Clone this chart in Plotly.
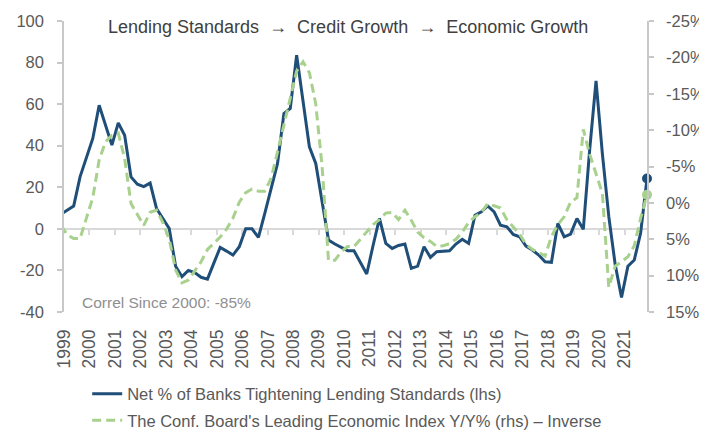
import plotly.graph_objects as go

# ---------------- data ----------------
year_labels = [str(y) for y in range(1999, 2022)]
year_ticks = list(range(1999, 2022))

# quarterly observations, plotted (advanced) starting at this position
SERIES_START = 1998.88
QUARTER = 0.25

# Net % of banks tightening lending standards (lhs)
net_tightening = [
    7, 9, 11, 25, 34, 43.5, 59.5, 50, 40.3, 51,
    45, 25, 21.5, 20.3, 22, 9.8, 5, 0.2, -18, -23,
    -20, -21, -23.3, -24.2, -16.5, -8.9, -10.7, -12.6, -8.6, 0,
    0, -4.1, 7.4, 19.5, 31.5, 55.5, 57.9, 83.6, 62, 39.5,
    31.5, 13.8, -5.4, -7.3, -9, -10.5, -10.5, -16, -21.7, -8,
    5, -7, -9.4, -8, -7.3, -19, -17.9, -8.6, -13.7, -11,
    -10.7, -10.5, -7.3, -5, -7, 6.6, 8.2, 11, 8.2, 1.8,
    1, -2.7, -3.8, -8.3, -10.2, -12.6, -15.8, -16.1, 2.6, -3.8,
    -2.5, 5, -0.2, 38, 71.2, 36, 6, -17, -33, -18,
    -15, -2, 24.2,
]

# Conference Board LEI Y/Y % (rhs, inverted axis)
lei_yoy_inverse = [
    3.1, 4.4, 4.9, 4.9, 2.1, -0.7, -5.9, -8.4, -9.3, -9.6,
    -6.1, 0.1, 1.6, 3.1, 1.3, 1.0, 2.7, 5.0, 9.2, 11.0,
    10.6, 9.3, 8.1, 6.4, 5.6, 4.7, 3.6, 2.1, -0.1, -1.4,
    -1.9, -1.6, -1.6, -3.4, -7.0, -10.7, -14.4, -18.1, -19.4, -17.9,
    -13.6, -5.0, 7.9, 7.9, 6.7, 6.0, 6.0, 5.0, 4.1, 3.0,
    2.3, 1.4, 1.3, 2.3, 1.0, 2.4, 4.0, 4.8, 5.3, 6.0,
    5.9, 5.6, 5.0, 4.0, 2.7, 1.9, 1.3, 0.1, 0.4, 0.7,
    2.3, 3.3, 4.3, 5.7, 6.4, 6.8, 7.3, 4.6, 3.0, 1.9,
    -0.1, -0.7, -10.1, -6.7, -3.9, -1.3, 11.6, 8.7, 8.1, 7.4,
    5.9, 2.1, -1.1,
]

left_ticks = [100, 80, 60, 40, 20, 0, -20, -40]
left_tick_labels = ["100", "80", "60", "40", "20", "0", "-20", "-40"]
right_ticks = [-25, -20, -15, -10, -5, 0, 5, 10, 15]
right_tick_labels = ["-25%", "-20%", "-15%", "-10%", "-5%", "0%", "5%", "10%", "15%"]

title_text = "Lending Standards  \u2192  Credit Growth  \u2192  Economic Growth"
note_text = "Correl Since 2000: -85%"
name_navy = "Net % of Banks Tightening Lending Standards (lhs)"
name_green = "The Conf. Board's Leading Economic Index Y/Y% (rhs) \u2013 Inverse"

# ---------------- styling ----------------
NAVY = "#1F4E79"
GREEN = "#A9D18E"
AXIS_GREY = "#C8C8C8"
ZERO_GREY = "#D9D9D9"
TEXT_GREY = "#595959"
FONT = "Liberation Sans, Arial, sans-serif"

x_pos = [SERIES_START + QUARTER * i for i in range(len(net_tightening))]
x_range = [1999, x_pos[-1]]

fig = go.Figure()
fig.add_trace(go.Scatter(
    x=x_pos, y=net_tightening, mode="lines", name=name_navy, legendgroup="a",
    line=dict(color=NAVY, width=3), hoverinfo="skip"))
fig.add_trace(go.Scatter(
    x=x_pos, y=lei_yoy_inverse, mode="lines", name=name_green, yaxis="y2",
    legendgroup="b",
    line=dict(color=GREEN, width=3, dash="9px,5px"), hoverinfo="skip"))
fig.add_trace(go.Scatter(
    x=[x_pos[-1]], y=[net_tightening[-1]], mode="markers", showlegend=False,
    marker=dict(color=NAVY, size=10), cliponaxis=False, hoverinfo="skip"))
fig.add_trace(go.Scatter(
    x=[x_pos[-1]], y=[lei_yoy_inverse[-1]], mode="markers", showlegend=False,
    yaxis="y2", marker=dict(color=GREEN, size=10), cliponaxis=False,
    hoverinfo="skip"))
# carrier for the zero-line category axis
fig.add_trace(go.Scatter(x=[None], y=[None], xaxis="x2", showlegend=False,
                         hoverinfo="skip"))

tick_font = dict(family=FONT, size=16.5, color=TEXT_GREY)

# the page body adds an 8px offset, so the figure is laid out 8px up/left
fig.update_layout(
    width=707, height=431,
    margin=dict(l=56, r=68, t=13, b=127, autoexpand=False),
    paper_bgcolor="white", plot_bgcolor="white",
    font=dict(family=FONT, color=TEXT_GREY),
    showlegend=True,
    legend=dict(xref="container", yref="container", x=0.112, y=0.145,
                xanchor="left", yanchor="top",
                font=dict(family=FONT, size=16.5, color=TEXT_GREY),
                bgcolor="rgba(0,0,0,0)", itemwidth=30, traceorder="grouped",
                tracegroupgap=2),
    xaxis=dict(range=x_range, tickvals=year_ticks, ticktext=year_labels,
               tickangle=-90, showline=False, ticks="", showgrid=False,
               zeroline=False, automargin=False,
               tickfont=dict(family=FONT, size=17.5, color=TEXT_GREY),
               ticklabelstandoff=13),
    xaxis2=dict(overlaying="x", anchor="free", position=2 / 7, range=x_range,
                tickvals=year_ticks[1:], showticklabels=False, showline=True,
                linecolor=ZERO_GREY, linewidth=1.5, ticks="outside", ticklen=5,
                tickcolor=ZERO_GREY, tickwidth=1.5, showgrid=False,
                zeroline=False, layer="below traces", automargin=False),
    yaxis=dict(range=[-40, 100], tickvals=left_ticks, ticktext=left_tick_labels,
               showline=True, linecolor=AXIS_GREY, linewidth=1.5,
               ticks="outside", ticklen=5, tickcolor=AXIS_GREY, tickwidth=1.5,
               showgrid=False, zeroline=False, tickfont=tick_font,
               ticklabelstandoff=10, automargin=False),
    yaxis2=dict(overlaying="y", side="right", anchor="x", range=[15, -25],
                tickvals=right_ticks, ticktext=right_tick_labels,
                showline=True, linecolor=AXIS_GREY, linewidth=1.5,
                ticks="outside", ticklen=5, tickcolor=AXIS_GREY, tickwidth=1.5,
                showgrid=False, zeroline=False, tickfont=tick_font,
                ticklabelstandoff=9, automargin=False),
    annotations=[
        dict(text=title_text, xref="paper", yref="paper", x=0.487, y=0.978,
             xanchor="center", yanchor="middle", showarrow=False,
             font=dict(family=FONT, size=18, color="#404040")),
        dict(text=note_text, xref="paper", yref="paper", x=0.0276, y=0.034,
             xanchor="left", yanchor="middle", showarrow=False,
             font=dict(family=FONT, size=15.5, color="#8F8F8F")),
    ],
)

fig.write_html("out.html")
